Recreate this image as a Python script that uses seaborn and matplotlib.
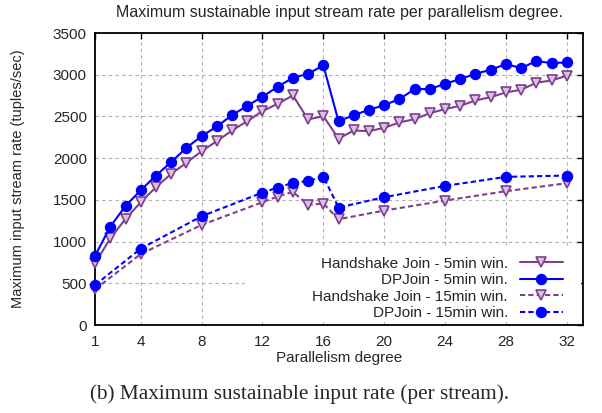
import matplotlib
matplotlib.use("Agg")
import matplotlib.pyplot as plt
from matplotlib.patches import Rectangle
import seaborn as sns
import pandas as pd

# ---- data ----
x_5min = list(range(1, 33))
hs_5min = [740, 1040, 1272, 1472, 1652, 1812, 1945, 2084, 2204, 2332, 2444, 2564,
           2652, 2752, 2464, 2504, 2234, 2332, 2324, 2364, 2428, 2468, 2540, 2588,
           2628, 2692, 2732, 2788, 2820, 2904, 2932, 2988]
dp_5min = [832, 1180, 1428, 1616, 1792, 1954, 2124, 2264, 2380, 2516, 2628, 2736,
           2856, 2964, 3012, 3112, 2442, 2516, 2580, 2636, 2708, 2828, 2828, 2892,
           2948, 3012, 3060, 3128, 3080, 3164, 3140, 3148]
x_15min = [1, 4, 8, 12, 13, 14, 15, 16, 17, 20, 24, 28, 32]
hs_15min = [428, 852, 1200, 1472, 1540, 1596, 1440, 1456, 1268, 1372, 1492, 1604, 1700]
dp_15min = [480, 916, 1304, 1588, 1648, 1704, 1726, 1780, 1408, 1532, 1668, 1776, 1792]

labels = ["Handshake Join - 5min win.", "DPJoin - 5min win.",
          "Handshake Join - 15min win.", "DPJoin - 15min win."]
x_ticks = [1, 4, 8, 12, 16, 20, 24, 28, 32]
y_ticks = [0, 500, 1000, 1500, 2000, 2500, 3000, 3500]

sns.set_theme(style="white")
plt.rcParams['font.family'] = ['Liberation Sans', 'DejaVu Sans']

purple = "#7f3f8f"
blue = "#0000ff"

fig, ax = plt.subplots(figsize=(6.02, 4.13), dpi=100)
fig.subplots_adjust(left=0.158, right=0.968, top=0.920, bottom=0.213)

series = [
    (x_5min, hs_5min, purple, "v", "-", "#d9bfe0"),
    (x_5min, dp_5min, blue, "o", "-", blue),
    (x_15min, hs_15min, purple, "v", (0, (2.5, 1.5)), "#d9bfe0"),
    (x_15min, dp_15min, blue, "o", (0, (2.5, 1.5)), blue),
]
for (xs, ys, c, m, ls, mfc), lab in zip(series, labels):
    df = pd.DataFrame({"x": xs, "y": ys})
    sns.lineplot(data=df, x="x", y="y", ax=ax, color=c, marker=m, linestyle=ls,
                 markersize=7.5 if m == "v" else 7, markerfacecolor=mfc,
                 markeredgecolor=c, markeredgewidth=1.2, linewidth=1.5,
                 label=lab, zorder=3, clip_on=False)

ax.set_xlim(1, 33.05)
ax.set_ylim(0, 3500)
ax.set_xticks(x_ticks)
ax.set_yticks(y_ticks)
ax.tick_params(direction="in", top=True, right=True, length=4, width=1,
               labelsize=11, color="black")
ax.tick_params(axis="y", pad=6)
ax.tick_params(axis="x", pad=7)
ax.grid(True, color="#b0b0b0", linestyle=(0, (3, 3)), linewidth=0.8)
ax.set_axisbelow(True)
for s in ax.spines.values():
    s.set_color("black")
    s.set_linewidth(1.3)

# white key area (hides grid behind the key, as in the original)
ax.add_patch(Rectangle((0.307, 0.017), 0.69, 0.245, transform=ax.transAxes,
                       facecolor="white", edgecolor="none", zorder=1))

ax.set_xlabel("Parallelism degree", fontsize=11)
ax.set_ylabel("Maximum input stream rate (tuples/sec)", fontsize=10.5)
ax.yaxis.set_label_coords(-0.143, 0.5)
ax.xaxis.set_label_coords(0.5, -0.09)

leg = ax.legend(loc="lower right", bbox_to_anchor=(0.967, 0.004), markerfirst=False,
                fontsize=11, frameon=False, handlelength=2.8,
                labelspacing=0.16, borderpad=0.25, borderaxespad=0.0,
                handletextpad=0.8)
leg.set_zorder(5)

fig.text(339 / 602, 1 - 13 / 413, "Maximum sustainable input stream rate per parallelism degree.",
         ha="center", va="center", fontsize=11.5)
fig.text(300 / 602, 1 - 394 / 413, "(b) Maximum sustainable input rate (per stream).",
         ha="center", va="center", fontsize=15.3, family=["Liberation Serif", "DejaVu Serif"])

fig.savefig("out.png", dpi=100)
